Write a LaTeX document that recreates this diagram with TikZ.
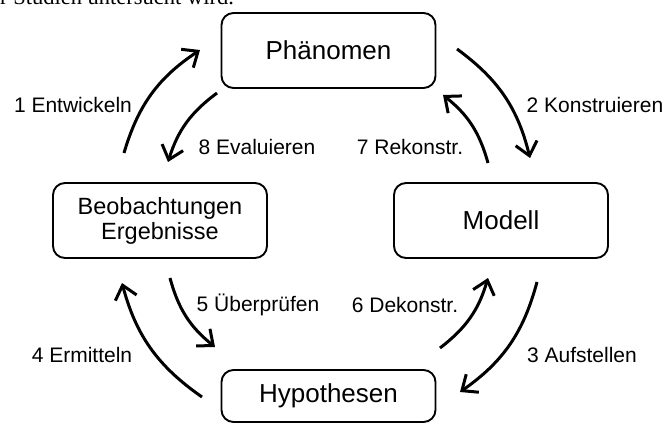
\documentclass[tikz,border=0pt]{standalone}
\usepackage{fontspec}
\setmainfont{Liberation Sans}
\newfontfamily\myseriffont{Liberation Serif}
\usetikzlibrary{arrows.meta}
\begin{document}
\begin{tikzpicture}[x=1pt,y=-1pt,
  box/.style={draw, line width=1.9pt, rounded corners=12pt, minimum width=214pt,
    minimum height=75pt, inner sep=0pt, align=center, font=\fontsize{26}{30}\selectfont},
  arr/.style={line width=3pt, -{Straight Barb[length=13pt,width=22pt]}},
  lab/.style={font=\fontsize{21}{25}\selectfont, inner sep=0pt}]
\useasboundingbox (0,0) rectangle (667,423);

\node[anchor=base west, inner sep=0pt, font=\myseriffont\fontsize{22.5}{27}\selectfont] (toptext) at (0,5) {r Studien untersucht wird.};

\node[box] (phen) at (328.5,50.5) {Phänomen};
\node[box, font=\fontsize{23.5}{25}\selectfont] (beob) at (160,220.5) {Beobachtungen\\Ergebnisse};
\node[box] (mod) at (501,220.5) {Modell};
\node[box, minimum height=52pt] (hyp) at (328.5,396) {Hypothesen};

\coordinate (a1s) at (124,153); \coordinate (a1e) at (200,50);
\coordinate (a8s) at (217,93);  \coordinate (a8e) at (168,162);
\coordinate (a2s) at (457,49);  \coordinate (a2e) at (530,158);
\coordinate (a7s) at (488,163); \coordinate (a7e) at (443,95);
\coordinate (a3s) at (537,282); \coordinate (a3e) at (460,392);
\coordinate (a6s) at (440,348); \coordinate (a6e) at (488,278);
\coordinate (a5s) at (170,278); \coordinate (a5e) at (215,347);
\coordinate (a4s) at (202,397); \coordinate (a4e) at (122,283);

\draw[arr] (a1s) to[bend left=20] (a1e);
\draw[arr] (a8s) to[bend right=18] (a8e);
\draw[arr] (a2s) to[bend left=20] (a2e);
\draw[arr] (a7s) to[bend right=18] (a7e);
\draw[arr] (a3s) to[bend left=20] (a3e);
\draw[arr] (a6s) to[bend right=18] (a6e);
\draw[arr] (a5s) to[bend right=18] (a5e);
\draw[arr] (a4s) to[bend left=20] (a4e);

\node[lab] (l1) at (73,105) {1 Entwickeln};
\node[lab] (l2) at (595,105) {2 Konstruieren};
\node[lab] (l8) at (257,147) {8 Evaluieren};
\node[lab] (l7) at (410,147) {7 Rekonstr.};
\node[lab] (l5) at (258,305) {5 Überprüfen};
\node[lab] (l6) at (405,305) {6 Dekonstr.};
\node[lab] (l4) at (82,355) {4 Ermitteln};
\node[lab] (l3) at (582,355) {3 Aufstellen};
\end{tikzpicture}
\end{document}
